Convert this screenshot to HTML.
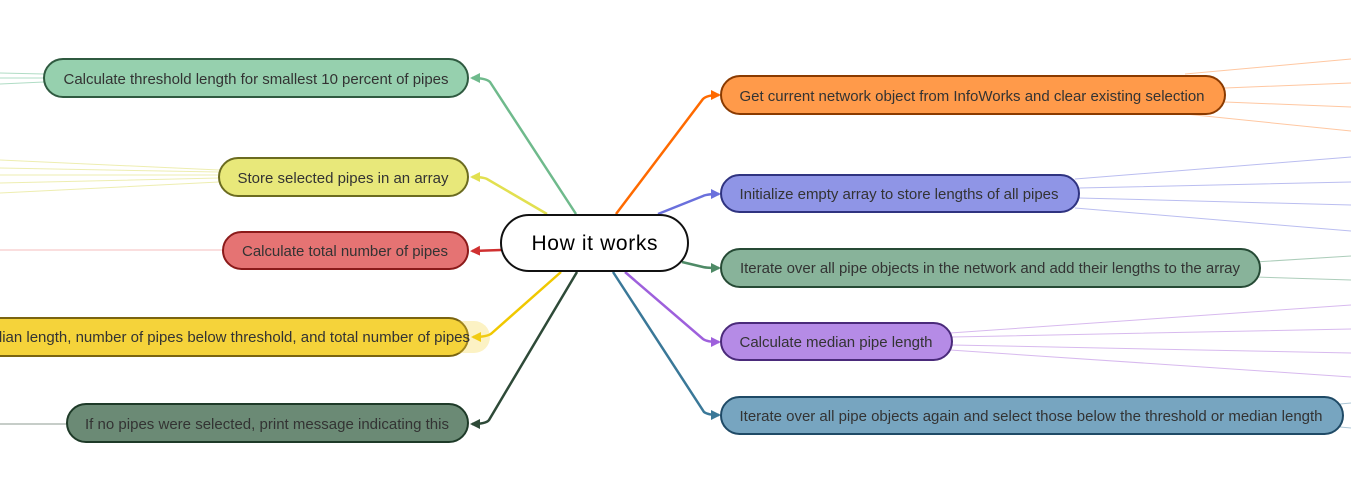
<!DOCTYPE html>
<html><head><meta charset="utf-8"><style>
html,body{margin:0;padding:0;background:#fff;width:1351px;height:482px;overflow:hidden}
svg text{font-family:"Liberation Sans",Arial,sans-serif;font-size:15px;fill:#333}
</style></head><body>
<svg width="1351" height="482" viewBox="0 0 1351 482" xmlns="http://www.w3.org/2000/svg">
<defs>
<marker id="a" viewBox="0 0 10 10" refX="8" refY="5" markerWidth="4" markerHeight="4" orient="auto"><path d="M0,0L10,5L0,10z" fill="context-stroke"/></marker>
</defs>
<g stroke-width="1" opacity="0.55">
<path d="M0,73L44,74M0,78L44,78M0,84L44,82" stroke="#6fc095"/>
<path d="M0,160L219,170M0,168L219,172M0,175L219,175M0,183L219,178M0,193L219,182" stroke="#e0e070"/>
<path d="M0,250L223,250" stroke="#f08a8a"/>
<path d="M0,424L67,424" stroke="#2f4a3a"/>
</g>
<g stroke-width="1" opacity="0.7">
<path d="M1185,74L1351,59M1225,88L1351,83M1225,102L1351,107M1185,114L1351,131" stroke="#ffb07a"/>
<path d="M1075,179L1351,157M1079,188L1351,182M1079,198L1351,205M1075,208L1351,231" stroke="#9ea2ea"/>
<path d="M1255,262L1351,256M1255,277L1351,280" stroke="#8ab89d"/>
<path d="M950,333L1351,305M952,337L1351,329M952,345L1351,353M950,350L1351,377" stroke="#c79ce8"/>
<path d="M1340,404L1351,403M1340,427L1351,428" stroke="#89afc5"/>
</g>
<g fill="none" stroke-width="2.5" marker-end="url(#a)">
<path d="M576,214L490,82Q486,78 472,78" stroke="#6fba8c"/>
<path d="M547,214L487,179Q483,177 472,177" stroke="#e2e050"/>
<path d="M501,250L472,251" stroke="#d03030"/>
<path d="M561,272L492,333Q488,337 473,337" stroke="#f0c800"/>
<path d="M577,272L489,420Q486,424 472,424" stroke="#2e4a38"/>
<path d="M616,214L703,99Q707,95 719,95" stroke="#ff6a00"/>
<path d="M658,214L703,196Q707,194 719,194" stroke="#6a70dc"/>
<path d="M682,262L703,267Q707,268 719,268" stroke="#4e8a66"/>
<path d="M625,272L703,339Q707,342 719,342" stroke="#9e60dc"/>
<path d="M613,272L704,412Q708,415 719,415" stroke="#3a7898"/>
</g>
<rect x="44" y="59" width="424" height="38" rx="19" fill="#96d0ae" stroke="#2f5a40" stroke-width="2"/>
<text x="256" y="84" text-anchor="middle" textLength="385">Calculate threshold length for smallest 10 percent of pipes</text>
<rect x="219" y="158" width="249" height="38" rx="19" fill="#e8e87a" stroke="#6b6b20" stroke-width="2"/>
<text x="343" y="183" text-anchor="middle" textLength="211">Store selected pipes in an array</text>
<rect x="223" y="232" width="245" height="37" rx="18.5" fill="#e57373" stroke="#8b1a1a" stroke-width="2"/>
<text x="345" y="256" text-anchor="middle" textLength="206">Calculate total number of pipes</text>
<rect x="-200" y="318" width="668" height="38" rx="19" fill="#f5d33a" stroke="#7a6410" stroke-width="2"/>
<rect x="440" y="321" width="50" height="32" rx="16" fill="#f5d33a" opacity="0.3"/>
<text x="470" y="342" text-anchor="end">dian length, number of pipes below threshold, and total number of pipes</text>
<rect x="67" y="404" width="401" height="38" rx="19" fill="#6b8a75" stroke="#1e3a28" stroke-width="2"/>
<text x="267" y="429" text-anchor="middle" textLength="364">If no pipes were selected, print message indicating this</text>
<rect x="721" y="76" width="504" height="38" rx="19" fill="#ff9a4a" stroke="#8a3a00" stroke-width="2"/>
<text x="972" y="101" text-anchor="middle" textLength="465">Get current network object from InfoWorks and clear existing selection</text>
<rect x="721" y="175" width="358" height="37" rx="18.5" fill="#8f95e6" stroke="#2f3380" stroke-width="2"/>
<text x="899" y="199" text-anchor="middle" textLength="319">Initialize empty array to store lengths of all pipes</text>
<rect x="721" y="249" width="539" height="38" rx="19" fill="#88b39a" stroke="#264a35" stroke-width="2"/>
<text x="990" y="273" text-anchor="middle" textLength="500">Iterate over all pipe objects in the network and add their lengths to the array</text>
<rect x="721" y="323" width="231" height="37" rx="18.5" fill="#b58be6" stroke="#4a2a7a" stroke-width="2"/>
<text x="836" y="347" text-anchor="middle" textLength="193">Calculate median pipe length</text>
<rect x="721" y="397" width="622" height="37" rx="18.5" fill="#77a5c0" stroke="#1f4a66" stroke-width="2"/>
<text x="1031" y="421" text-anchor="middle" textLength="583">Iterate over all pipe objects again and select those below the threshold or median length</text>
<rect x="501" y="215" width="187" height="56" rx="28" fill="#fff" stroke="#111" stroke-width="2"/>
<text x="594.5" y="250" text-anchor="middle" textLength="126" style="font-size:21px;fill:#000">How it works</text>
</svg>
</body></html>
